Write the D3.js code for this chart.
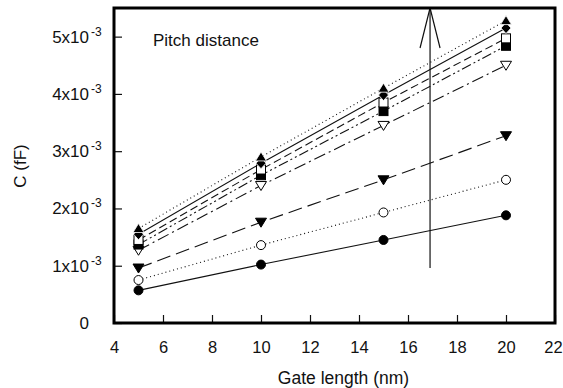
<!DOCTYPE html>
<html><head><meta charset="utf-8">
<script src="https://cdn.jsdelivr.net/npm/d3@7"></script>
<style>body{margin:0;background:#fff}svg{display:block}text{font-family:Arial,"Liberation Sans",sans-serif;fill:#111}</style>
</head><body><svg id="c" width="563" height="388"></svg>
<script>
const gateLength = [5, 10, 15, 20];
const xTicks = [4, 6, 8, 10, 12, 14, 16, 18, 20, 22];
const yTicks = [0, 1, 2, 3, 4, 5];           // in units of 1e-3 fF
const yTickLabels = ["0", "1x10", "2x10", "3x10", "4x10", "5x10"];
const s1 = [0.57, 1.02, 1.45, 1.88];
const s2 = [0.75, 1.36, 1.93, 2.50];
const s3 = [0.96, 1.76, 2.50, 3.27];
const s4 = [1.27, 2.40, 3.45, 4.50];
const s5 = [1.37, 2.58, 3.70, 4.84];
const s6 = [1.45, 2.68, 3.85, 4.97];
const s7 = [1.55, 2.79, 3.98, 5.15];
const s8 = [1.65, 2.90, 4.10, 5.28];
const arrowX = 16.9, arrowFrom = 0.96;

const series = [
  {v:s1, m:"circle", fill:true, dash:null},
  {v:s2, m:"circle", fill:false, dash:"1,3"},
  {v:s3, m:"tridown", fill:true, dash:"14,6"},
  {v:s4, m:"tridown", fill:false, dash:"12,4,2,4"},
  {v:s5, m:"square", fill:true, dash:"10,3,2,3,2,3"},
  {v:s6, m:"square", fill:false, dash:"8,4"},
  {v:s7, m:"diamond", fill:true, dash:null},
  {v:s8, m:"triup", fill:true, dash:"1,3"}
];

const svg = d3.select("#c");
const L=114, R=555, T=8, B=323;
const x = d3.scaleLinear().domain([4,22]).range([L,R]);
const y = d3.scaleLinear().domain([0,5.5]).range([B,T]);

const gx = svg.append("g").attr("transform",`translate(0,${B})`)
  .call(d3.axisBottom(x).tickValues(xTicks).tickSizeInner(-8).tickSizeOuter(0).tickPadding(18));
gx.select(".domain").remove();
gx.selectAll("line").attr("stroke","#111").attr("stroke-width",1.2);
gx.selectAll("text").style("font-size","16.5px").attr("fill","#111");
gx.selectAll(".tick").filter(d=>d===22).select("text").attr("dx",-2);

const gy = svg.append("g").attr("transform",`translate(${L},0)`)
  .call(d3.axisLeft(y).tickValues(yTicks).tickSizeInner(-8).tickSizeOuter(0).tickFormat(""));
gy.select(".domain").remove();
gy.selectAll("line").attr("stroke","#111").attr("stroke-width",1.2);
yTicks.forEach((t,i)=>{
  svg.append("text").attr("x",89).attr("y",y(t)+6).attr("text-anchor","end")
    .style("font-size","17px").text(yTickLabels[i]);
  if(t>0) svg.append("text").attr("x",91).attr("y",y(t)-1).style("font-size","12px").text("-3");
});

const line = d3.line().x((d,i)=>x(gateLength[i])).y(d=>y(d));
series.forEach(s=>{
  svg.append("path").attr("d",line(s.v)).attr("fill","none").attr("stroke","#111")
    .attr("stroke-width",1.1).attr("stroke-dasharray",s.dash);
});

function marker(g,type,cx,cy,fill){
  const col = fill?"#000":"#fff";
  if(type==="circle") g.append("circle").attr("cx",cx).attr("cy",cy).attr("r",4.5).attr("fill",col).attr("stroke","#000").attr("stroke-width",1);
  else if(type==="square") g.append("rect").attr("x",cx-4.5).attr("y",cy-4.5).attr("width",9).attr("height",9).attr("fill",col).attr("stroke","#000");
  else if(type==="tridown") g.append("path").attr("d",`M${cx-5.5},${cy-4}L${cx+5.5},${cy-4}L${cx},${cy+5}Z`).attr("fill",col).attr("stroke","#000");
  else if(type==="triup") g.append("path").attr("d",`M${cx-5.5},${cy+4}L${cx+5.5},${cy+4}L${cx},${cy-5}Z`).attr("fill",col).attr("stroke",fill?"#fff":"#000").attr("stroke-width",0.8);
  else if(type==="diamond") g.append("path").attr("d",`M${cx},${cy-5.5}L${cx+5},${cy}L${cx},${cy+5.5}L${cx-5},${cy}Z`).attr("fill",col).attr("stroke","#fff").attr("stroke-width",0.8);
}
const mg = svg.append("g");
series.forEach(s=>s.v.forEach((d,i)=>marker(mg,s.m,x(gateLength[i]),y(d),s.fill)));

const ax = x(arrowX);
svg.append("line").attr("x1",ax).attr("x2",ax).attr("y1",y(arrowFrom)).attr("y2",y(5.5)).attr("stroke","#111").attr("stroke-width",1.2);
svg.append("path").attr("d",`M${ax-10},${y(5.5)+40}L${ax},${y(5.5)}L${ax+10},${y(5.5)+40}`).attr("fill","none").attr("stroke","#111").attr("stroke-width",1.2);

svg.append("rect").attr("x",L).attr("y",T).attr("width",R-L).attr("height",B-T).attr("fill","none").attr("stroke","#000").attr("stroke-width",3);

svg.append("text").attr("x",153).attr("y",46).style("font-size","17px").text("Pitch distance");
svg.append("text").attr("x",(L+R)/2+9).attr("y",384).attr("text-anchor","middle").style("font-size","17.5px").text("Gate length (nm)");
svg.append("text").attr("transform","translate(26,166) rotate(-90)").attr("text-anchor","middle").style("font-size","17px").text("C (fF)");
</script></body></html>
